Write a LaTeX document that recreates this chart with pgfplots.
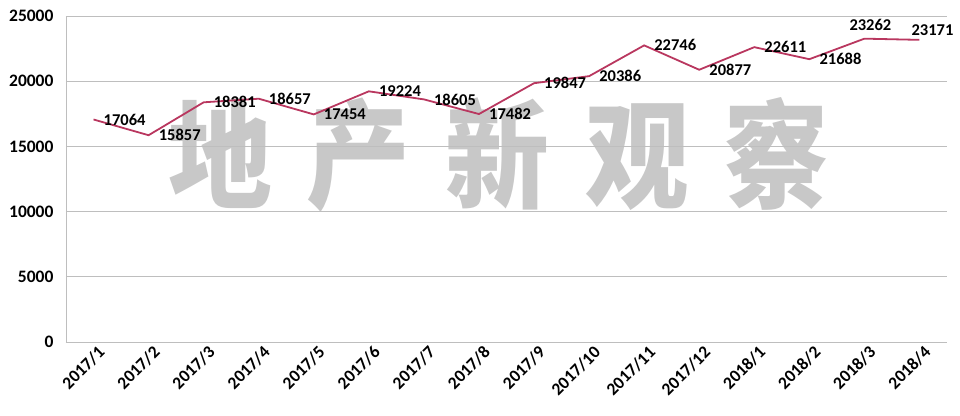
\documentclass[border=0pt]{standalone}
\usepackage{pgfplots}
\pgfplotsset{compat=1.18}
\usepackage{fontspec}
\setmainfont{Carlito}
\newfontfamily\cjk{Noto Sans CJK SC}
\definecolor{linec}{RGB}{185,55,95}
\definecolor{gridc}{RGB}{190,190,190}
\definecolor{wm}{RGB}{200,200,200}
\begin{document}
\begin{tikzpicture}
\node[text=wm, font=\cjk\bfseries\fontsize{118bp}{120bp}\selectfont, xscale=0.88, inner sep=0] at (432bp,187bp) {地\hspace{40bp}产\hspace{40bp}新\hspace{40bp}观\hspace{40bp}察};
\begin{axis}[
  name=ax,
  scale only axis,
  width=881bp, height=326bp,
  xmin=-0.5, xmax=15.5,
  ymin=0, ymax=25000,
  ytick={0,5000,10000,15000,20000,25000},
  xtick={0,...,15},
  xticklabels={2017/1,2017/2,2017/3,2017/4,2017/5,2017/6,2017/7,2017/8,2017/9,2017/10,2017/11,2017/12,2018/1,2018/2,2018/3,2018/4},
  axis lines*=left,
  axis line style={gridc, line width=0.8bp},
  ymajorgrids,
  grid style={gridc, line width=0.8bp},
  major tick length=0pt,
  tick style={draw=none},
  scaled y ticks=false,
  /pgf/number format/assume math mode=true,
  yticklabel={\pgfmathprintnumber[fixed,1000 sep={}]{\tick}},
  tick label style={font=\bfseries\fontsize{17.5bp}{19bp}\selectfont},
  yticklabel style={xshift=-9bp},
  xticklabel style={rotate=45, anchor=north east, xshift=4bp, yshift=-1bp},
  clip=false,
]
\addplot[linec, line width=1.8bp, mark=none] coordinates {
(0,17064)(1,15857)(2,18381)(3,18657)(4,17454)(5,19224)(6,18605)(7,17482)(8,19847)(9,20386)(10,22746)(11,20877)(12,22611)(13,21688)(14,23262)(15,23171)};
\addplot[draw=none, mark=none, point meta=explicit symbolic,
  nodes near coords,
  nodes near coords style={anchor=west, inner sep=1bp, xshift=9bp, font=\bfseries\fontsize{16.5bp}{18bp}\selectfont}]
  coordinates {
(0,17064)[17064](1,15857)[15857](2,18381)[18381](3,18657)[18657](4,17454)[17454](5,19224)[19224](6,18605)[18605](7,17482)[17482](8,19847)[19847](9,20386)[20386](10,22746)[22746](11,20877)[20877](12,22611)[22611](13,21688)[21688]};
\addplot[draw=none, mark=none, point meta=explicit symbolic,
  nodes near coords,
  nodes near coords style={anchor=south, inner sep=1bp, xshift=6bp, yshift=7bp, font=\bfseries\fontsize{16.5bp}{18bp}\selectfont}]
  coordinates {(14,23262)[23262]};
\addplot[draw=none, mark=none, point meta=explicit symbolic,
  nodes near coords,
  nodes near coords style={anchor=south, inner sep=1bp, xshift=13bp, yshift=3bp, font=\bfseries\fontsize{16.5bp}{18bp}\selectfont}]
  coordinates {(15,23171)[23171]};
\end{axis}
\pgfresetboundingbox
\path[use as bounding box] (-66bp,-74bp) rectangle (894bp,342bp);
\end{tikzpicture}
\end{document}
